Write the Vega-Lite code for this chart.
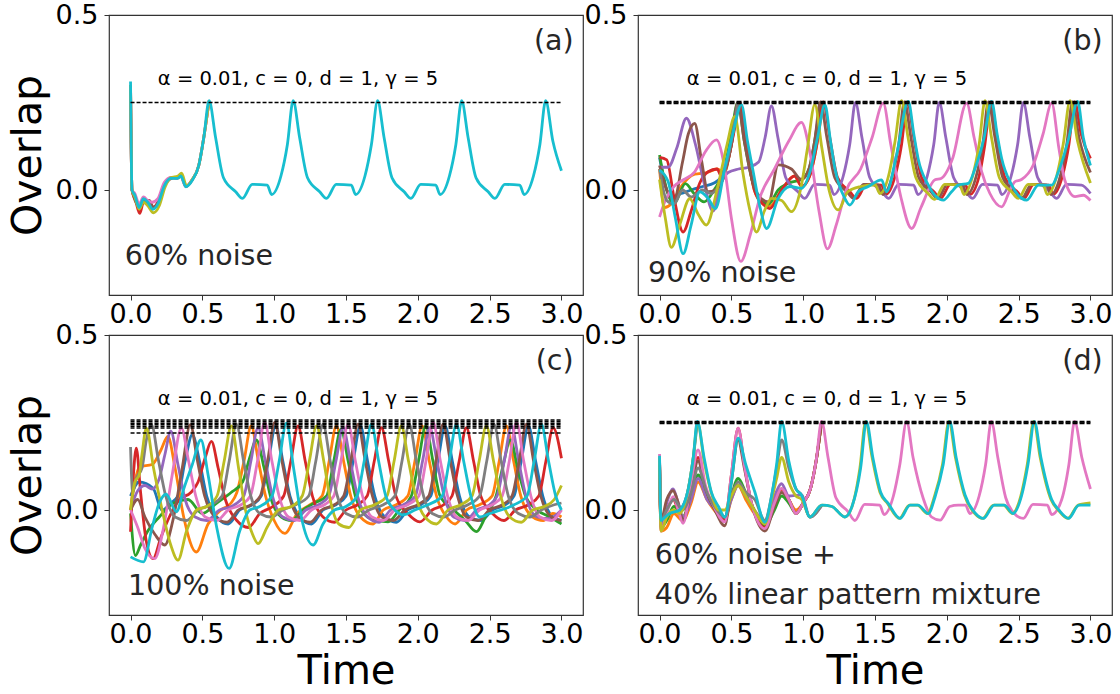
{
"$schema":"https://vega.github.io/schema/vega-lite/v6.json",
"background":"white",
"padding":{"left":6,"top":0,"right":0,"bottom":0},
"config":{
"view":{"stroke":"#333","strokeWidth":1.2},
"range":{"category":["#1f77b4","#ff7f0e","#2ca02c","#d62728","#9467bd","#8c564b","#e377c2","#7f7f7f","#bcbd22","#17becf"]},
"axis":{"labelFont":"DejaVu Sans","labelFontSize":27,"labelColor":"black","titleFont":"DejaVu Sans","titleFontSize":41,"titleFontWeight":"normal","titleColor":"black","domain":false,"grid":false,"tickSize":5,"tickColor":"#333","labelPadding":3,"titlePadding":6,"labelOverlap":false,"labelFlush":false},
"axisBottom":{"titlePadding":4,"labelPadding":1,"titleFontSize":40},
"axisLeft":{"labelPadding":6}
},
"datasets":{
"a":[
{"s":3,"t":0,"v":0.3},{"s":3,"t":0.01,"v":0.0},{"s":3,"t":0.035,"v":-0.03},{"s":3,"t":0.064,"v":-0.067},{"s":3,"t":0.09,"v":-0.035},{"s":3,"t":0.12,"v":-0.04},{"s":3,"t":0.155,"v":-0.05},{"s":3,"t":0.19,"v":-0.035},{"s":3,"t":0.235,"v":0.015},{"s":3,"t":0.28,"v":0.035},{"s":3,"t":0.33,"v":0.035},{"s":3,"t":0.35,"v":0.04},{"s":3,"t":0.385,"v":0.01},{"s":3,"t":0.43,"v":0.03},{"s":3,"t":0.475,"v":0.07},{"s":3,"t":0.51,"v":0.15},{"s":3,"t":0.547,"v":0.255},
{"s":5,"t":0,"v":0.3},{"s":5,"t":0.01,"v":0.0},{"s":5,"t":0.06,"v":-0.045},{"s":5,"t":0.09,"v":-0.03},{"s":5,"t":0.13,"v":-0.03},{"s":5,"t":0.16,"v":-0.05},{"s":5,"t":0.2,"v":-0.03},{"s":5,"t":0.24,"v":0.015},{"s":5,"t":0.3,"v":0.035},{"s":5,"t":0.33,"v":0.033},
{"s":6,"t":0,"v":0.3},{"s":6,"t":0.01,"v":0.0},{"s":6,"t":0.03,"v":-0.01},{"s":6,"t":0.06,"v":-0.04},{"s":6,"t":0.09,"v":-0.02},{"s":6,"t":0.12,"v":-0.03},{"s":6,"t":0.15,"v":-0.035},{"s":6,"t":0.19,"v":-0.025},{"s":6,"t":0.235,"v":0.022},{"s":6,"t":0.28,"v":0.035},{"s":6,"t":0.33,"v":0.035},{"s":6,"t":0.35,"v":0.04},{"s":6,"t":0.385,"v":0.01},{"s":6,"t":0.43,"v":0.03},{"s":6,"t":0.475,"v":0.07},{"s":6,"t":0.51,"v":0.15},{"s":6,"t":0.547,"v":0.255},
{"s":8,"t":0,"v":0.3},{"s":8,"t":0.01,"v":0.0},{"s":8,"t":0.03,"v":-0.02},{"s":8,"t":0.06,"v":-0.055},{"s":8,"t":0.09,"v":-0.035},{"s":8,"t":0.12,"v":-0.045},{"s":8,"t":0.16,"v":-0.065},{"s":8,"t":0.2,"v":-0.045},{"s":8,"t":0.24,"v":0.008},{"s":8,"t":0.28,"v":0.035},{"s":8,"t":0.33,"v":0.04},{"s":8,"t":0.355,"v":0.048},{"s":8,"t":0.39,"v":0.012},{"s":8,"t":0.43,"v":0.03},{"s":8,"t":0.475,"v":0.07},{"s":8,"t":0.51,"v":0.15},{"s":8,"t":0.547,"v":0.255},
{"s":9,"t":0,"v":0.31},{"s":9,"t":0.01,"v":0.0},{"s":9,"t":0.03,"v":-0.015},{"s":9,"t":0.06,"v":-0.05},{"s":9,"t":0.09,"v":-0.025},{"s":9,"t":0.12,"v":-0.035},{"s":9,"t":0.155,"v":-0.055},{"s":9,"t":0.19,"v":-0.04},{"s":9,"t":0.235,"v":0.012},{"s":9,"t":0.28,"v":0.033},{"s":9,"t":0.33,"v":0.033},{"s":9,"t":0.35,"v":0.04},{"s":9,"t":0.385,"v":0.009},{"s":9,"t":0.43,"v":0.028},{"s":9,"t":0.475,"v":0.07},{"s":9,"t":0.51,"v":0.15},
{"s":9,"t":0.547,"v":0.255},{"s":9,"t":0.592,"v":0.15},{"s":9,"t":0.647,"v":0.035},{"s":9,"t":0.732,"v":-0.005},{"s":9,"t":0.779,"v":-0.024},{"s":9,"t":0.847,"v":0.016},{"s":9,"t":0.952,"v":0.014},{"s":9,"t":0.982,"v":-0.013},{"s":9,"t":1.047,"v":0.04},{"s":9,"t":1.092,"v":0.13},
{"s":9,"t":1.132,"v":0.255},{"s":9,"t":1.177,"v":0.15},{"s":9,"t":1.232,"v":0.035},{"s":9,"t":1.317,"v":-0.005},{"s":9,"t":1.364,"v":-0.024},{"s":9,"t":1.432,"v":0.016},{"s":9,"t":1.537,"v":0.014},{"s":9,"t":1.567,"v":-0.013},{"s":9,"t":1.632,"v":0.04},{"s":9,"t":1.677,"v":0.13},
{"s":9,"t":1.72,"v":0.255},{"s":9,"t":1.765,"v":0.15},{"s":9,"t":1.82,"v":0.035},{"s":9,"t":1.905,"v":-0.005},{"s":9,"t":1.952,"v":-0.024},{"s":9,"t":2.02,"v":0.016},{"s":9,"t":2.125,"v":0.014},{"s":9,"t":2.155,"v":-0.013},{"s":9,"t":2.22,"v":0.04},{"s":9,"t":2.265,"v":0.13},
{"s":9,"t":2.305,"v":0.255},{"s":9,"t":2.35,"v":0.15},{"s":9,"t":2.405,"v":0.035},{"s":9,"t":2.49,"v":-0.005},{"s":9,"t":2.537,"v":-0.024},{"s":9,"t":2.605,"v":0.016},{"s":9,"t":2.71,"v":0.014},{"s":9,"t":2.74,"v":-0.013},{"s":9,"t":2.805,"v":0.04},{"s":9,"t":2.85,"v":0.13},
{"s":9,"t":2.89,"v":0.255},{"s":9,"t":2.94,"v":0.14},{"s":9,"t":3.0,"v":0.055}
],
"b":[
{"s":0,"t":0,"v":0.093},{"s":0,"t":0.03,"v":0.03},{"s":0,"t":0.08,"v":-0.02},{"s":0,"t":0.15,"v":-0.01},{"s":0,"t":0.22,"v":0.0},{"s":0,"t":0.3,"v":0.01},{"s":0,"t":0.38,"v":0.02},{"s":0,"t":0.45,"v":0.05},{"s":0,"t":0.5,"v":0.13},{"s":0,"t":0.545,"v":0.25},
{"s":1,"t":0,"v":0.06},{"s":1,"t":0.035,"v":-0.05},{"s":1,"t":0.08,"v":-0.04},{"s":1,"t":0.15,"v":0.01},{"s":1,"t":0.245,"v":0.045},{"s":1,"t":0.33,"v":0.05},{"s":1,"t":0.4,"v":0.06},{"s":1,"t":0.45,"v":0.05},{"s":1,"t":0.5,"v":0.13},{"s":1,"t":0.55,"v":0.25},{"s":1,"t":0.6,"v":0.13},{"s":1,"t":0.66,"v":0.0},{"s":1,"t":0.72,"v":-0.04},{"s":1,"t":0.77,"v":-0.045},{"s":1,"t":0.85,"v":0.0},{"s":1,"t":0.94,"v":0.04},{"s":1,"t":0.99,"v":0.01},{"s":1,"t":1.045,"v":0.04},{"s":1,"t":1.095,"v":0.13},{"s":1,"t":1.14,"v":0.252},
{"s":2,"t":0,"v":0.1},{"s":2,"t":0.05,"v":0.0},{"s":2,"t":0.1,"v":-0.04},{"s":2,"t":0.18,"v":0.018},{"s":2,"t":0.24,"v":-0.01},{"s":2,"t":0.31,"v":-0.034},{"s":2,"t":0.38,"v":0.0},{"s":2,"t":0.45,"v":0.06},{"s":2,"t":0.5,"v":0.16},{"s":2,"t":0.545,"v":0.25},{"s":2,"t":0.59,"v":0.14},{"s":2,"t":0.65,"v":0.02},{"s":2,"t":0.71,"v":-0.03},{"s":2,"t":0.76,"v":-0.04},{"s":2,"t":0.826,"v":0.0},{"s":2,"t":0.9,"v":0.02},{"s":2,"t":0.988,"v":0.03},{"s":2,"t":1.04,"v":0.06},{"s":2,"t":1.08,"v":0.14},{"s":2,"t":1.12,"v":0.252},
{"s":3,"t":0,"v":0.093},{"s":3,"t":0.05,"v":0.086},{"s":3,"t":0.1,"v":-0.02},{"s":3,"t":0.164,"v":-0.12},{"s":3,"t":0.22,"v":-0.06},{"s":3,"t":0.28,"v":0.02},{"s":3,"t":0.338,"v":0.052},{"s":3,"t":0.4,"v":0.06},{"s":3,"t":0.43,"v":0.04},{"s":3,"t":0.48,"v":0.09},{"s":3,"t":0.52,"v":0.17},{"s":3,"t":0.56,"v":0.25},{"s":3,"t":0.605,"v":0.13},{"s":3,"t":0.66,"v":0.0},{"s":3,"t":0.72,"v":-0.04},{"s":3,"t":0.768,"v":-0.053},{"s":3,"t":0.85,"v":0.0},{"s":3,"t":0.94,"v":0.04},{"s":3,"t":0.99,"v":0.01},{"s":3,"t":1.045,"v":0.04},{"s":3,"t":1.095,"v":0.13},{"s":3,"t":1.14,"v":0.252},{"s":3,"t":1.185,"v":0.15},{"s":3,"t":1.24,"v":0.035},{"s":3,"t":1.325,"v":-0.005},{"s":3,"t":1.372,"v":-0.024},{"s":3,"t":1.44,"v":0.016},{"s":3,"t":1.545,"v":0.014},{"s":3,"t":1.575,"v":-0.013},{"s":3,"t":1.64,"v":0.04},{"s":3,"t":1.685,"v":0.13},{"s":3,"t":1.725,"v":0.252},{"s":3,"t":1.77,"v":0.15},{"s":3,"t":1.825,"v":0.035},{"s":3,"t":1.91,"v":-0.005},{"s":3,"t":1.957,"v":-0.024},{"s":3,"t":2.025,"v":0.016},{"s":3,"t":2.13,"v":0.014},{"s":3,"t":2.16,"v":-0.013},{"s":3,"t":2.225,"v":0.04},{"s":3,"t":2.265,"v":0.13},{"s":3,"t":2.305,"v":0.252},{"s":3,"t":2.35,"v":0.15},{"s":3,"t":2.405,"v":0.035},{"s":3,"t":2.49,"v":-0.005},{"s":3,"t":2.537,"v":-0.024},{"s":3,"t":2.605,"v":0.016},{"s":3,"t":2.71,"v":0.014},{"s":3,"t":2.74,"v":-0.013},{"s":3,"t":2.805,"v":0.04},{"s":3,"t":2.85,"v":0.13},{"s":3,"t":2.89,"v":0.252},{"s":3,"t":2.935,"v":0.16},{"s":3,"t":3.0,"v":0.09},
{"s":4,"t":0,"v":0.065},{"s":4,"t":0.06,"v":0.065},{"s":4,"t":0.12,"v":0.12},{"s":4,"t":0.187,"v":0.205},{"s":4,"t":0.25,"v":0.13},{"s":4,"t":0.31,"v":0.02},{"s":4,"t":0.373,"v":-0.06},{"s":4,"t":0.42,"v":0.01},{"s":4,"t":0.477,"v":0.05},{"s":4,"t":0.55,"v":0.06},{"s":4,"t":0.62,"v":0.065},{"s":4,"t":0.69,"v":0.08},{"s":4,"t":0.735,"v":0.15},{"s":4,"t":0.779,"v":0.24},{"s":4,"t":0.824,"v":0.15},{"s":4,"t":0.879,"v":0.035},{"s":4,"t":0.964,"v":-0.005},{"s":4,"t":1.011,"v":-0.024},{"s":4,"t":1.079,"v":0.016},{"s":4,"t":1.184,"v":0.014},{"s":4,"t":1.214,"v":-0.013},{"s":4,"t":1.279,"v":0.04},{"s":4,"t":1.324,"v":0.13},{"s":4,"t":1.364,"v":0.25},{"s":4,"t":1.409,"v":0.15},{"s":4,"t":1.464,"v":0.035},{"s":4,"t":1.549,"v":-0.005},{"s":4,"t":1.596,"v":-0.024},{"s":4,"t":1.664,"v":0.016},{"s":4,"t":1.769,"v":0.014},{"s":4,"t":1.799,"v":-0.013},{"s":4,"t":1.864,"v":0.04},{"s":4,"t":1.909,"v":0.13},{"s":4,"t":1.948,"v":0.25},{"s":4,"t":1.993,"v":0.15},{"s":4,"t":2.048,"v":0.035},{"s":4,"t":2.133,"v":-0.005},{"s":4,"t":2.18,"v":-0.024},{"s":4,"t":2.248,"v":0.016},{"s":4,"t":2.353,"v":0.014},{"s":4,"t":2.383,"v":-0.013},{"s":4,"t":2.448,"v":0.04},{"s":4,"t":2.493,"v":0.13},{"s":4,"t":2.533,"v":0.25},{"s":4,"t":2.578,"v":0.15},{"s":4,"t":2.633,"v":0.035},{"s":4,"t":2.718,"v":-0.005},{"s":4,"t":2.765,"v":-0.024},{"s":4,"t":2.833,"v":0.016},{"s":4,"t":2.938,"v":0.014},{"s":4,"t":3.0,"v":-0.01},
{"s":5,"t":0,"v":0.07},{"s":5,"t":0.05,"v":0.0},{"s":5,"t":0.1,"v":-0.03},{"s":5,"t":0.16,"v":0.08},{"s":5,"t":0.2,"v":0.16},{"s":5,"t":0.245,"v":0.19},{"s":5,"t":0.29,"v":0.09},{"s":5,"t":0.338,"v":-0.005},{"s":5,"t":0.39,"v":0.0},{"s":5,"t":0.44,"v":0.03},{"s":5,"t":0.5,"v":0.13},{"s":5,"t":0.545,"v":0.25},{"s":5,"t":0.59,"v":0.14},{"s":5,"t":0.65,"v":0.02},{"s":5,"t":0.71,"v":-0.025},{"s":5,"t":0.76,"v":-0.034},{"s":5,"t":0.826,"v":0.072},{"s":5,"t":0.918,"v":0.06},{"s":5,"t":0.988,"v":0.03},{"s":5,"t":1.04,"v":0.06},{"s":5,"t":1.08,"v":0.14},{"s":5,"t":1.12,"v":0.252},{"s":5,"t":1.165,"v":0.15},{"s":5,"t":1.22,"v":0.035},{"s":5,"t":1.305,"v":-0.005},{"s":5,"t":1.352,"v":-0.024},{"s":5,"t":1.42,"v":0.016},{"s":5,"t":1.525,"v":0.014},{"s":5,"t":1.555,"v":-0.013},{"s":5,"t":1.62,"v":0.04},{"s":5,"t":1.665,"v":0.13},{"s":5,"t":1.705,"v":0.252},{"s":5,"t":1.75,"v":0.15},{"s":5,"t":1.805,"v":0.035},{"s":5,"t":1.89,"v":-0.005},{"s":5,"t":1.937,"v":-0.024},{"s":5,"t":2.005,"v":0.016},{"s":5,"t":2.11,"v":0.014},{"s":5,"t":2.14,"v":-0.013},{"s":5,"t":2.205,"v":0.04},{"s":5,"t":2.25,"v":0.13},{"s":5,"t":2.29,"v":0.252},{"s":5,"t":2.335,"v":0.15},{"s":5,"t":2.39,"v":0.035},{"s":5,"t":2.475,"v":-0.005},{"s":5,"t":2.522,"v":-0.024},{"s":5,"t":2.59,"v":0.016},{"s":5,"t":2.695,"v":0.014},{"s":5,"t":2.725,"v":-0.013},{"s":5,"t":2.79,"v":0.04},{"s":5,"t":2.835,"v":0.13},{"s":5,"t":2.875,"v":0.252},{"s":5,"t":2.92,"v":0.15},{"s":5,"t":3.0,"v":0.05},
{"s":6,"t":0,"v":-0.077},{"s":6,"t":0.04,"v":-0.03},{"s":6,"t":0.1,"v":0.01},{"s":6,"t":0.17,"v":0.03},{"s":6,"t":0.245,"v":0.052},{"s":6,"t":0.32,"v":0.11},{"s":6,"t":0.396,"v":0.143},{"s":6,"t":0.45,"v":0.07},{"s":6,"t":0.5,"v":-0.08},{"s":6,"t":0.566,"v":-0.204},{"s":6,"t":0.63,"v":-0.13},{"s":6,"t":0.7,"v":-0.02},{"s":6,"t":0.8,"v":0.06},{"s":6,"t":0.9,"v":0.14},{"s":6,"t":0.988,"v":0.193},{"s":6,"t":1.05,"v":0.1},{"s":6,"t":1.11,"v":-0.06},{"s":6,"t":1.169,"v":-0.168},{"s":6,"t":1.23,"v":-0.1},{"s":6,"t":1.3,"v":0.0},{"s":6,"t":1.4,"v":0.06},{"s":6,"t":1.48,"v":0.15},{"s":6,"t":1.557,"v":0.248},{"s":6,"t":1.61,"v":0.13},{"s":6,"t":1.68,"v":-0.02},{"s":6,"t":1.755,"v":-0.11},{"s":6,"t":1.82,"v":-0.05},{"s":6,"t":1.918,"v":0.029},{"s":6,"t":1.96,"v":0.033},{"s":6,"t":2.04,"v":0.09},{"s":6,"t":2.138,"v":0.248},{"s":6,"t":2.19,"v":0.15},{"s":6,"t":2.243,"v":0.052},{"s":6,"t":2.3,"v":-0.01},{"s":6,"t":2.382,"v":-0.048},{"s":6,"t":2.44,"v":0.0},{"s":6,"t":2.475,"v":0.024},{"s":6,"t":2.52,"v":0.03},{"s":6,"t":2.6,"v":0.07},{"s":6,"t":2.67,"v":0.16},{"s":6,"t":2.73,"v":0.248},{"s":6,"t":2.78,"v":0.12},{"s":6,"t":2.82,"v":0.03},{"s":6,"t":2.893,"v":-0.019},{"s":6,"t":2.95,"v":-0.015},{"s":6,"t":3.0,"v":-0.03},
{"s":7,"t":0,"v":0.06},{"s":7,"t":0.05,"v":-0.03},{"s":7,"t":0.1,"v":-0.04},{"s":7,"t":0.16,"v":0.0},{"s":7,"t":0.22,"v":-0.02},{"s":7,"t":0.3,"v":0.0},{"s":7,"t":0.36,"v":-0.01},{"s":7,"t":0.42,"v":0.02},{"s":7,"t":0.48,"v":0.1},{"s":7,"t":0.545,"v":0.25},
{"s":8,"t":0,"v":0.03},{"s":8,"t":0.04,"v":-0.08},{"s":8,"t":0.082,"v":-0.164},{"s":8,"t":0.14,"v":-0.1},{"s":8,"t":0.21,"v":-0.025},{"s":8,"t":0.27,"v":-0.07},{"s":8,"t":0.326,"v":-0.1},{"s":8,"t":0.4,"v":0.0},{"s":8,"t":0.47,"v":0.13},{"s":8,"t":0.524,"v":0.21},{"s":8,"t":0.58,"v":0.05},{"s":8,"t":0.63,"v":-0.06},{"s":8,"t":0.675,"v":-0.12},{"s":8,"t":0.73,"v":-0.06},{"s":8,"t":0.78,"v":-0.024},{"s":8,"t":0.85,"v":-0.03},{"s":8,"t":0.918,"v":-0.062},{"s":8,"t":0.988,"v":0.014},{"s":8,"t":1.03,"v":0.12},{"s":8,"t":1.081,"v":0.244},{"s":8,"t":1.13,"v":0.12},{"s":8,"t":1.18,"v":0.0},{"s":8,"t":1.244,"v":-0.057},{"s":8,"t":1.31,"v":-0.005},{"s":8,"t":1.4,"v":0.01},{"s":8,"t":1.5,"v":0.015},{"s":8,"t":1.535,"v":-0.01},{"s":8,"t":1.6,"v":0.05},{"s":8,"t":1.64,"v":0.14},{"s":8,"t":1.685,"v":0.255},{"s":8,"t":1.73,"v":0.15},{"s":8,"t":1.785,"v":0.035},{"s":8,"t":1.87,"v":-0.01},{"s":8,"t":1.915,"v":-0.027},{"s":8,"t":1.985,"v":0.016},{"s":8,"t":2.09,"v":0.014},{"s":8,"t":2.12,"v":-0.013},{"s":8,"t":2.18,"v":0.04},{"s":8,"t":2.225,"v":0.13},{"s":8,"t":2.266,"v":0.255},{"s":8,"t":2.311,"v":0.15},{"s":8,"t":2.366,"v":0.035},{"s":8,"t":2.451,"v":-0.005},{"s":8,"t":2.498,"v":-0.024},{"s":8,"t":2.566,"v":0.016},{"s":8,"t":2.671,"v":0.014},{"s":8,"t":2.7,"v":-0.013},{"s":8,"t":2.765,"v":0.04},{"s":8,"t":2.81,"v":0.13},{"s":8,"t":2.858,"v":0.255},{"s":8,"t":2.91,"v":0.14},{"s":8,"t":3.0,"v":0.02},
{"s":9,"t":0,"v":0.057},{"s":9,"t":0.06,"v":0.024},{"s":9,"t":0.11,"v":-0.08},{"s":9,"t":0.164,"v":-0.182},{"s":9,"t":0.22,"v":-0.1},{"s":9,"t":0.28,"v":-0.005},{"s":9,"t":0.338,"v":-0.024},{"s":9,"t":0.389,"v":-0.053},{"s":9,"t":0.454,"v":0.062},{"s":9,"t":0.51,"v":0.16},{"s":9,"t":0.57,"v":0.244},{"s":9,"t":0.612,"v":0.14},{"s":9,"t":0.652,"v":0.052},{"s":9,"t":0.7,"v":-0.05},{"s":9,"t":0.745,"v":-0.11},{"s":9,"t":0.826,"v":-0.024},{"s":9,"t":0.907,"v":0.01},{"s":9,"t":0.988,"v":0.005},{"s":9,"t":1.047,"v":0.052},{"s":9,"t":1.1,"v":0.15},{"s":9,"t":1.151,"v":0.244},{"s":9,"t":1.19,"v":0.14},{"s":9,"t":1.221,"v":0.062},{"s":9,"t":1.29,"v":-0.024},{"s":9,"t":1.325,"v":-0.043},{"s":9,"t":1.383,"v":-0.005},{"s":9,"t":1.453,"v":0.01},{"s":9,"t":1.546,"v":0.029},{"s":9,"t":1.58,"v":-0.005},{"s":9,"t":1.65,"v":0.1},{"s":9,"t":1.732,"v":0.253},{"s":9,"t":1.77,"v":0.16},{"s":9,"t":1.8,"v":0.09},{"s":9,"t":1.871,"v":0.014},{"s":9,"t":1.976,"v":-0.029},{"s":9,"t":2.033,"v":-0.005},{"s":9,"t":2.08,"v":0.014},{"s":9,"t":2.15,"v":0.019},{"s":9,"t":2.197,"v":0.062},{"s":9,"t":2.26,"v":0.15},{"s":9,"t":2.312,"v":0.253},{"s":9,"t":2.35,"v":0.16},{"s":9,"t":2.382,"v":0.09},{"s":9,"t":2.452,"v":0.014},{"s":9,"t":2.556,"v":-0.029},{"s":9,"t":2.638,"v":0.014},{"s":9,"t":2.73,"v":0.014},{"s":9,"t":2.777,"v":0.052},{"s":9,"t":2.85,"v":0.15},{"s":9,"t":2.911,"v":0.253},{"s":9,"t":2.95,"v":0.15},{"s":9,"t":3.0,"v":0.07}
],
"c":[
{"s":0,"t":0,"v":0.04},{"s":0,"t":0.06,"v":0.08},{"s":0,"t":0.157,"v":0.062},{"s":0,"t":0.22,"v":0.0},{"s":0,"t":0.28,"v":0.02},{"s":0,"t":0.33,"v":0.04},{"s":0,"t":0.38,"v":0.14},{"s":0,"t":0.43,"v":0.215},{"s":0,"t":0.48,"v":0.14},{"s":0,"t":0.53,"v":0.04},{"s":0,"t":0.6,"v":-0.02},{"s":0,"t":0.68,"v":-0.04},{"s":0,"t":0.76,"v":0.0},{"s":0,"t":0.85,"v":0.015},{"s":0,"t":0.91,"v":0.04},{"s":0,"t":0.96,"v":0.14},{"s":0,"t":1.01,"v":0.24},{"s":0,"t":1.06,"v":0.14},{"s":0,"t":1.11,"v":0.04},{"s":0,"t":1.18,"v":-0.02},{"s":0,"t":1.26,"v":-0.04},{"s":0,"t":1.34,"v":0.0},{"s":0,"t":1.43,"v":0.015},{"s":0,"t":1.5,"v":0.04},{"s":0,"t":1.55,"v":0.14},{"s":0,"t":1.6,"v":0.24},{"s":0,"t":1.65,"v":0.14},{"s":0,"t":1.7,"v":0.04},{"s":0,"t":1.77,"v":-0.02},{"s":0,"t":1.85,"v":-0.035},{"s":0,"t":1.93,"v":0.0},{"s":0,"t":2.02,"v":0.015},{"s":0,"t":2.09,"v":0.04},{"s":0,"t":2.14,"v":0.14},{"s":0,"t":2.19,"v":0.24},{"s":0,"t":2.24,"v":0.14},{"s":0,"t":2.29,"v":0.04},{"s":0,"t":2.36,"v":-0.02},{"s":0,"t":2.44,"v":-0.03},{"s":0,"t":2.52,"v":0.0},{"s":0,"t":2.61,"v":0.015},{"s":0,"t":2.67,"v":0.04},{"s":0,"t":2.72,"v":0.14},{"s":0,"t":2.77,"v":0.24},{"s":0,"t":2.82,"v":0.14},{"s":0,"t":2.87,"v":0.04},{"s":0,"t":2.94,"v":-0.02},{"s":0,"t":3.0,"v":-0.03},
{"s":1,"t":0,"v":0.0},{"s":1,"t":0.03,"v":0.08},{"s":1,"t":0.064,"v":0.124},{"s":1,"t":0.15,"v":0.13},{"s":1,"t":0.21,"v":0.17},{"s":1,"t":0.26,"v":0.21},{"s":1,"t":0.31,"v":0.12},{"s":1,"t":0.37,"v":-0.02},{"s":1,"t":0.458,"v":-0.12},{"s":1,"t":0.54,"v":-0.04},{"s":1,"t":0.63,"v":0.0},{"s":1,"t":0.7,"v":0.02},{"s":1,"t":0.74,"v":0.05},{"s":1,"t":0.79,"v":0.14},{"s":1,"t":0.84,"v":0.24},{"s":1,"t":0.89,"v":0.14},{"s":1,"t":0.94,"v":0.04},{"s":1,"t":1.0,"v":-0.03},{"s":1,"t":1.074,"v":-0.067},{"s":1,"t":1.16,"v":-0.01},{"s":1,"t":1.25,"v":0.015},{"s":1,"t":1.333,"v":0.04},{"s":1,"t":1.383,"v":0.14},{"s":1,"t":1.433,"v":0.24},{"s":1,"t":1.483,"v":0.14},{"s":1,"t":1.533,"v":0.04},{"s":1,"t":1.6,"v":-0.02},{"s":1,"t":1.689,"v":-0.04},{"s":1,"t":1.76,"v":0.0},{"s":1,"t":1.85,"v":0.015},{"s":1,"t":1.93,"v":0.04},{"s":1,"t":1.98,"v":0.14},{"s":1,"t":2.03,"v":0.24},{"s":1,"t":2.08,"v":0.14},{"s":1,"t":2.13,"v":0.04},{"s":1,"t":2.2,"v":-0.02},{"s":1,"t":2.26,"v":-0.04},{"s":1,"t":2.34,"v":0.0},{"s":1,"t":2.43,"v":0.015},{"s":1,"t":2.517,"v":0.04},{"s":1,"t":2.567,"v":0.14},{"s":1,"t":2.617,"v":0.24},{"s":1,"t":2.667,"v":0.14},{"s":1,"t":2.717,"v":0.04},{"s":1,"t":2.8,"v":-0.02},{"s":1,"t":2.873,"v":-0.03},{"s":1,"t":2.94,"v":-0.01},{"s":1,"t":3.0,"v":-0.02},
{"s":2,"t":0,"v":-0.01},{"s":2,"t":0.034,"v":-0.13},{"s":2,"t":0.07,"v":-0.1},{"s":2,"t":0.12,"v":-0.06},{"s":2,"t":0.2,"v":-0.02},{"s":2,"t":0.3,"v":0.02},{"s":2,"t":0.4,"v":0.03},{"s":2,"t":0.5,"v":-0.01},{"s":2,"t":0.6,"v":0.02},{"s":2,"t":0.7,"v":0.05},{"s":2,"t":0.78,"v":0.08},{"s":2,"t":0.83,"v":0.15},{"s":2,"t":0.876,"v":0.2},{"s":2,"t":0.93,"v":0.12},{"s":2,"t":0.98,"v":0.03},{"s":2,"t":1.05,"v":-0.02},{"s":2,"t":1.12,"v":-0.03},{"s":2,"t":1.2,"v":0.0},{"s":2,"t":1.28,"v":0.02},{"s":2,"t":1.365,"v":0.04},{"s":2,"t":1.415,"v":0.14},{"s":2,"t":1.465,"v":0.23},{"s":2,"t":1.515,"v":0.14},{"s":2,"t":1.565,"v":0.04},{"s":2,"t":1.65,"v":-0.02},{"s":2,"t":1.72,"v":-0.03},{"s":2,"t":1.793,"v":-0.034},{"s":2,"t":1.87,"v":0.0},{"s":2,"t":1.955,"v":0.04},{"s":2,"t":2.005,"v":0.14},{"s":2,"t":2.055,"v":0.24},{"s":2,"t":2.105,"v":0.14},{"s":2,"t":2.155,"v":0.04},{"s":2,"t":2.25,"v":0.0},{"s":2,"t":2.33,"v":-0.03},{"s":2,"t":2.408,"v":-0.062},{"s":2,"t":2.47,"v":-0.02},{"s":2,"t":2.545,"v":0.04},{"s":2,"t":2.595,"v":0.13},{"s":2,"t":2.645,"v":0.2},{"s":2,"t":2.695,"v":0.12},{"s":2,"t":2.75,"v":0.04},{"s":2,"t":2.83,"v":0.0},{"s":2,"t":2.92,"v":-0.02},{"s":2,"t":3.0,"v":-0.04},
{"s":3,"t":0,"v":-0.062},{"s":3,"t":0.02,"v":0.1},{"s":3,"t":0.04,"v":0.177},{"s":3,"t":0.07,"v":0.05},{"s":3,"t":0.11,"v":-0.09},{"s":3,"t":0.157,"v":-0.139},{"s":3,"t":0.21,"v":-0.08},{"s":3,"t":0.27,"v":-0.02},{"s":3,"t":0.34,"v":0.03},{"s":3,"t":0.42,"v":0.05},{"s":3,"t":0.47,"v":0.08},{"s":3,"t":0.52,"v":0.15},{"s":3,"t":0.563,"v":0.196},{"s":3,"t":0.61,"v":0.12},{"s":3,"t":0.66,"v":0.03},{"s":3,"t":0.74,"v":-0.03},{"s":3,"t":0.82,"v":-0.05},{"s":3,"t":0.9,"v":-0.01},{"s":3,"t":0.99,"v":0.01},{"s":3,"t":1.066,"v":0.04},{"s":3,"t":1.116,"v":0.14},{"s":3,"t":1.166,"v":0.24},{"s":3,"t":1.216,"v":0.14},{"s":3,"t":1.266,"v":0.04},{"s":3,"t":1.34,"v":-0.02},{"s":3,"t":1.42,"v":-0.035},{"s":3,"t":1.5,"v":0.0},{"s":3,"t":1.58,"v":0.015},{"s":3,"t":1.647,"v":0.04},{"s":3,"t":1.697,"v":0.14},{"s":3,"t":1.747,"v":0.235},{"s":3,"t":1.797,"v":0.14},{"s":3,"t":1.847,"v":0.04},{"s":3,"t":1.93,"v":-0.01},{"s":3,"t":2.014,"v":-0.034},{"s":3,"t":2.1,"v":0.0},{"s":3,"t":2.18,"v":0.015},{"s":3,"t":2.238,"v":0.04},{"s":3,"t":2.288,"v":0.14},{"s":3,"t":2.338,"v":0.235},{"s":3,"t":2.388,"v":0.14},{"s":3,"t":2.438,"v":0.04},{"s":3,"t":2.52,"v":-0.01},{"s":3,"t":2.6,"v":-0.03},{"s":3,"t":2.68,"v":0.0},{"s":3,"t":2.77,"v":0.015},{"s":3,"t":2.842,"v":0.04},{"s":3,"t":2.892,"v":0.14},{"s":3,"t":2.942,"v":0.235},{"s":3,"t":3.0,"v":0.148},
{"s":4,"t":0,"v":0.0},{"s":4,"t":0.05,"v":0.055},{"s":4,"t":0.1,"v":0.07},{"s":4,"t":0.15,"v":0.06},{"s":4,"t":0.2,"v":0.09},{"s":4,"t":0.24,"v":0.16},{"s":4,"t":0.28,"v":0.225},{"s":4,"t":0.33,"v":0.13},{"s":4,"t":0.38,"v":0.03},{"s":4,"t":0.45,"v":-0.02},{"s":4,"t":0.53,"v":-0.03},{"s":4,"t":0.62,"v":0.0},{"s":4,"t":0.7,"v":0.01},{"s":4,"t":0.788,"v":0.04},{"s":4,"t":0.838,"v":0.14},{"s":4,"t":0.888,"v":0.235},{"s":4,"t":0.938,"v":0.14},{"s":4,"t":0.988,"v":0.04},{"s":4,"t":1.06,"v":-0.02},{"s":4,"t":1.14,"v":-0.03},{"s":4,"t":1.22,"v":0.0},{"s":4,"t":1.31,"v":0.015},{"s":4,"t":1.38,"v":0.04},{"s":4,"t":1.43,"v":0.14},{"s":4,"t":1.48,"v":0.235},{"s":4,"t":1.53,"v":0.14},{"s":4,"t":1.58,"v":0.04},{"s":4,"t":1.65,"v":-0.02},{"s":4,"t":1.73,"v":-0.035},{"s":4,"t":1.81,"v":0.0},{"s":4,"t":1.9,"v":0.015},{"s":4,"t":1.983,"v":0.04},{"s":4,"t":2.033,"v":0.14},{"s":4,"t":2.083,"v":0.235},{"s":4,"t":2.133,"v":0.14},{"s":4,"t":2.183,"v":0.04},{"s":4,"t":2.25,"v":-0.02},{"s":4,"t":2.33,"v":-0.03},{"s":4,"t":2.41,"v":0.0},{"s":4,"t":2.5,"v":0.015},{"s":4,"t":2.552,"v":0.04},{"s":4,"t":2.602,"v":0.14},{"s":4,"t":2.652,"v":0.24},{"s":4,"t":2.702,"v":0.14},{"s":4,"t":2.752,"v":0.04},{"s":4,"t":2.83,"v":-0.02},{"s":4,"t":2.91,"v":-0.025},{"s":4,"t":3.0,"v":0.0},
{"s":5,"t":0,"v":0.0},{"s":5,"t":0.05,"v":0.03},{"s":5,"t":0.1,"v":-0.02},{"s":5,"t":0.17,"v":-0.07},{"s":5,"t":0.238,"v":-0.1},{"s":5,"t":0.3,"v":-0.02},{"s":5,"t":0.36,"v":0.12},{"s":5,"t":0.416,"v":0.244},{"s":5,"t":0.466,"v":0.14},{"s":5,"t":0.516,"v":0.04},{"s":5,"t":0.59,"v":-0.02},{"s":5,"t":0.67,"v":-0.035},{"s":5,"t":0.75,"v":0.0},{"s":5,"t":0.84,"v":0.015},{"s":5,"t":0.904,"v":0.04},{"s":5,"t":0.954,"v":0.14},{"s":5,"t":1.004,"v":0.25},{"s":5,"t":1.054,"v":0.14},{"s":5,"t":1.104,"v":0.04},{"s":5,"t":1.17,"v":-0.02},{"s":5,"t":1.25,"v":-0.035},{"s":5,"t":1.33,"v":0.0},{"s":5,"t":1.42,"v":0.015},{"s":5,"t":1.484,"v":0.04},{"s":5,"t":1.534,"v":0.14},{"s":5,"t":1.584,"v":0.245},{"s":5,"t":1.634,"v":0.14},{"s":5,"t":1.684,"v":0.04},{"s":5,"t":1.75,"v":-0.02},{"s":5,"t":1.83,"v":-0.03},{"s":5,"t":1.91,"v":0.0},{"s":5,"t":2.0,"v":0.015},{"s":5,"t":2.076,"v":0.04},{"s":5,"t":2.126,"v":0.14},{"s":5,"t":2.176,"v":0.245},{"s":5,"t":2.226,"v":0.14},{"s":5,"t":2.276,"v":0.04},{"s":5,"t":2.34,"v":-0.02},{"s":5,"t":2.42,"v":-0.03},{"s":5,"t":2.5,"v":0.0},{"s":5,"t":2.59,"v":0.015},{"s":5,"t":2.656,"v":0.04},{"s":5,"t":2.706,"v":0.14},{"s":5,"t":2.756,"v":0.245},{"s":5,"t":2.806,"v":0.14},{"s":5,"t":2.856,"v":0.04},{"s":5,"t":2.93,"v":-0.02},{"s":5,"t":3.0,"v":-0.03},
{"s":6,"t":0,"v":0.0},{"s":6,"t":0.05,"v":-0.05},{"s":6,"t":0.1,"v":-0.11},{"s":6,"t":0.168,"v":-0.139},{"s":6,"t":0.23,"v":-0.05},{"s":6,"t":0.29,"v":0.1},{"s":6,"t":0.354,"v":0.234},{"s":6,"t":0.404,"v":0.14},{"s":6,"t":0.454,"v":0.04},{"s":6,"t":0.52,"v":-0.02},{"s":6,"t":0.6,"v":-0.03},{"s":6,"t":0.68,"v":0.0},{"s":6,"t":0.77,"v":0.015},{"s":6,"t":0.834,"v":0.04},{"s":6,"t":0.884,"v":0.14},{"s":6,"t":0.934,"v":0.25},{"s":6,"t":0.984,"v":0.14},{"s":6,"t":1.034,"v":0.04},{"s":6,"t":1.1,"v":-0.02},{"s":6,"t":1.18,"v":-0.03},{"s":6,"t":1.26,"v":0.0},{"s":6,"t":1.35,"v":0.015},{"s":6,"t":1.415,"v":0.04},{"s":6,"t":1.465,"v":0.14},{"s":6,"t":1.515,"v":0.245},{"s":6,"t":1.565,"v":0.14},{"s":6,"t":1.615,"v":0.04},{"s":6,"t":1.68,"v":-0.02},{"s":6,"t":1.76,"v":-0.03},{"s":6,"t":1.84,"v":0.0},{"s":6,"t":1.93,"v":0.015},{"s":6,"t":2.007,"v":0.04},{"s":6,"t":2.057,"v":0.14},{"s":6,"t":2.107,"v":0.25},{"s":6,"t":2.157,"v":0.14},{"s":6,"t":2.207,"v":0.04},{"s":6,"t":2.27,"v":-0.02},{"s":6,"t":2.35,"v":-0.03},{"s":6,"t":2.43,"v":0.0},{"s":6,"t":2.52,"v":0.015},{"s":6,"t":2.587,"v":0.04},{"s":6,"t":2.637,"v":0.14},{"s":6,"t":2.687,"v":0.25},{"s":6,"t":2.737,"v":0.14},{"s":6,"t":2.787,"v":0.04},{"s":6,"t":2.85,"v":-0.02},{"s":6,"t":2.93,"v":-0.03},{"s":6,"t":3.0,"v":0.0},
{"s":7,"t":0,"v":0.18},{"s":7,"t":0.015,"v":0.05},{"s":7,"t":0.04,"v":0.09},{"s":7,"t":0.08,"v":0.12},{"s":7,"t":0.11,"v":0.2},{"s":7,"t":0.145,"v":0.244},{"s":7,"t":0.195,"v":0.14},{"s":7,"t":0.245,"v":0.04},{"s":7,"t":0.31,"v":-0.02},{"s":7,"t":0.39,"v":-0.03},{"s":7,"t":0.47,"v":0.0},{"s":7,"t":0.56,"v":0.015},{"s":7,"t":0.637,"v":0.04},{"s":7,"t":0.687,"v":0.14},{"s":7,"t":0.737,"v":0.245},{"s":7,"t":0.787,"v":0.14},{"s":7,"t":0.837,"v":0.04},{"s":7,"t":0.9,"v":-0.01},{"s":7,"t":0.98,"v":-0.02},{"s":7,"t":1.06,"v":0.0},{"s":7,"t":1.15,"v":0.015},{"s":7,"t":1.24,"v":0.04},{"s":7,"t":1.29,"v":0.14},{"s":7,"t":1.34,"v":0.245},{"s":7,"t":1.39,"v":0.14},{"s":7,"t":1.44,"v":0.04},{"s":7,"t":1.5,"v":-0.01},{"s":7,"t":1.58,"v":-0.02},{"s":7,"t":1.66,"v":0.0},{"s":7,"t":1.76,"v":0.015},{"s":7,"t":1.84,"v":0.04},{"s":7,"t":1.89,"v":0.14},{"s":7,"t":1.94,"v":0.245},{"s":7,"t":1.99,"v":0.14},{"s":7,"t":2.04,"v":0.04},{"s":7,"t":2.1,"v":-0.01},{"s":7,"t":2.18,"v":-0.02},{"s":7,"t":2.26,"v":0.0},{"s":7,"t":2.35,"v":0.015},{"s":7,"t":2.43,"v":0.04},{"s":7,"t":2.48,"v":0.14},{"s":7,"t":2.53,"v":0.245},{"s":7,"t":2.58,"v":0.14},{"s":7,"t":2.63,"v":0.04},{"s":7,"t":2.7,"v":-0.01},{"s":7,"t":2.78,"v":-0.02},{"s":7,"t":2.86,"v":0.0},{"s":7,"t":2.95,"v":0.015},{"s":7,"t":3.0,"v":0.02},
{"s":8,"t":0,"v":0.0},{"s":8,"t":0.03,"v":0.08},{"s":8,"t":0.06,"v":0.1},{"s":8,"t":0.08,"v":0.16},{"s":8,"t":0.11,"v":0.234},{"s":8,"t":0.16,"v":0.12},{"s":8,"t":0.22,"v":0.0},{"s":8,"t":0.28,"v":-0.1},{"s":8,"t":0.33,"v":-0.143},{"s":8,"t":0.39,"v":-0.06},{"s":8,"t":0.46,"v":0.0},{"s":8,"t":0.53,"v":0.01},{"s":8,"t":0.602,"v":0.04},{"s":8,"t":0.652,"v":0.14},{"s":8,"t":0.702,"v":0.24},{"s":8,"t":0.752,"v":0.12},{"s":8,"t":0.8,"v":0.0},{"s":8,"t":0.85,"v":-0.07},{"s":8,"t":0.888,"v":-0.096},{"s":8,"t":0.95,"v":-0.05},{"s":8,"t":1.03,"v":0.0},{"s":8,"t":1.12,"v":0.01},{"s":8,"t":1.195,"v":0.04},{"s":8,"t":1.245,"v":0.14},{"s":8,"t":1.295,"v":0.24},{"s":8,"t":1.345,"v":0.14},{"s":8,"t":1.395,"v":0.02},{"s":8,"t":1.45,"v":-0.04},{"s":8,"t":1.52,"v":-0.05},{"s":8,"t":1.6,"v":0.0},{"s":8,"t":1.7,"v":0.015},{"s":8,"t":1.785,"v":0.04},{"s":8,"t":1.835,"v":0.14},{"s":8,"t":1.885,"v":0.24},{"s":8,"t":1.935,"v":0.14},{"s":8,"t":1.985,"v":0.04},{"s":8,"t":2.05,"v":-0.02},{"s":8,"t":2.13,"v":-0.04},{"s":8,"t":2.21,"v":0.0},{"s":8,"t":2.3,"v":0.015},{"s":8,"t":2.377,"v":0.04},{"s":8,"t":2.427,"v":0.14},{"s":8,"t":2.477,"v":0.24},{"s":8,"t":2.527,"v":0.14},{"s":8,"t":2.577,"v":0.04},{"s":8,"t":2.64,"v":-0.02},{"s":8,"t":2.72,"v":-0.035},{"s":8,"t":2.8,"v":0.0},{"s":8,"t":2.88,"v":0.01},{"s":8,"t":2.95,"v":0.03},{"s":8,"t":3.0,"v":0.07},
{"s":9,"t":0,"v":-0.134},{"s":9,"t":0.09,"v":-0.148},{"s":9,"t":0.15,"v":-0.05},{"s":9,"t":0.2,"v":0.02},{"s":9,"t":0.247,"v":0.045},{"s":9,"t":0.32,"v":-0.005},{"s":9,"t":0.37,"v":0.06},{"s":9,"t":0.43,"v":0.13},{"s":9,"t":0.49,"v":0.2},{"s":9,"t":0.54,"v":0.1},{"s":9,"t":0.6,"v":-0.05},{"s":9,"t":0.686,"v":-0.167},{"s":9,"t":0.76,"v":-0.06},{"s":9,"t":0.83,"v":0.0},{"s":9,"t":0.9,"v":0.01},{"s":9,"t":0.985,"v":0.04},{"s":9,"t":1.035,"v":0.14},{"s":9,"t":1.085,"v":0.248},{"s":9,"t":1.135,"v":0.12},{"s":9,"t":1.2,"v":-0.04},{"s":9,"t":1.271,"v":-0.1},{"s":9,"t":1.34,"v":-0.04},{"s":9,"t":1.42,"v":0.0},{"s":9,"t":1.5,"v":0.01},{"s":9,"t":1.577,"v":0.04},{"s":9,"t":1.627,"v":0.14},{"s":9,"t":1.677,"v":0.245},{"s":9,"t":1.727,"v":0.14},{"s":9,"t":1.777,"v":0.04},{"s":9,"t":1.84,"v":0.0},{"s":9,"t":1.898,"v":-0.014},{"s":9,"t":1.98,"v":0.0},{"s":9,"t":2.07,"v":0.015},{"s":9,"t":2.169,"v":0.04},{"s":9,"t":2.219,"v":0.14},{"s":9,"t":2.269,"v":0.245},{"s":9,"t":2.319,"v":0.14},{"s":9,"t":2.369,"v":0.04},{"s":9,"t":2.432,"v":-0.02},{"s":9,"t":2.5,"v":-0.01},{"s":9,"t":2.58,"v":0.0},{"s":9,"t":2.67,"v":0.015},{"s":9,"t":2.76,"v":0.04},{"s":9,"t":2.81,"v":0.14},{"s":9,"t":2.86,"v":0.245},{"s":9,"t":2.91,"v":0.14},{"s":9,"t":2.96,"v":0.04},{"s":9,"t":3.0,"v":0.0}
],
"d":[
{"s":0,"t":0,"v":0.15},{"s":0,"t":0.01,"v":-0.04},{"s":0,"t":0.04,"v":-0.03},{"s":0,"t":0.07,"v":-0.01},{"s":0,"t":0.14,"v":0.0},{"s":0,"t":0.2,"v":0.06},{"s":0,"t":0.235,"v":0.15},{"s":0,"t":0.263,"v":0.253},
{"s":1,"t":0,"v":0.14},{"s":1,"t":0.01,"v":-0.06},{"s":1,"t":0.05,"v":-0.05},{"s":1,"t":0.1,"v":-0.01},{"s":1,"t":0.16,"v":-0.03},{"s":1,"t":0.22,"v":0.02},{"s":1,"t":0.268,"v":0.08},{"s":1,"t":0.33,"v":0.03},{"s":1,"t":0.4,"v":-0.01},{"s":1,"t":0.454,"v":-0.03},{"s":1,"t":0.5,"v":0.03},{"s":1,"t":0.547,"v":0.07},{"s":1,"t":0.6,"v":0.03},{"s":1,"t":0.66,"v":-0.01},{"s":1,"t":0.733,"v":-0.04},{"s":1,"t":0.8,"v":0.03},{"s":1,"t":0.85,"v":0.06},{"s":1,"t":0.9,"v":0.03},{"s":1,"t":0.95,"v":0.0},{"s":1,"t":1.0,"v":0.02},{"s":1,"t":1.05,"v":0.06},{"s":1,"t":1.09,"v":0.14},{"s":1,"t":1.128,"v":0.253},
{"s":2,"t":0,"v":0.14},{"s":2,"t":0.01,"v":-0.05},{"s":2,"t":0.05,"v":-0.03},{"s":2,"t":0.1,"v":0.01},{"s":2,"t":0.16,"v":-0.02},{"s":2,"t":0.22,"v":0.04},{"s":2,"t":0.268,"v":0.1},{"s":2,"t":0.33,"v":0.04},{"s":2,"t":0.4,"v":0.0},{"s":2,"t":0.454,"v":-0.025},{"s":2,"t":0.5,"v":0.04},{"s":2,"t":0.547,"v":0.09},{"s":2,"t":0.6,"v":0.05},{"s":2,"t":0.66,"v":0.0},{"s":2,"t":0.733,"v":-0.045},{"s":2,"t":0.8,"v":0.0},{"s":2,"t":0.85,"v":0.04},{"s":2,"t":0.9,"v":0.02},{"s":2,"t":0.95,"v":-0.01},{"s":2,"t":1.0,"v":0.02},{"s":2,"t":1.05,"v":0.06},{"s":2,"t":1.09,"v":0.14},{"s":2,"t":1.128,"v":0.253},
{"s":3,"t":0,"v":0.15},{"s":3,"t":0.01,"v":-0.05},{"s":3,"t":0.05,"v":0.0},{"s":3,"t":0.094,"v":0.03},{"s":3,"t":0.13,"v":0.0},{"s":3,"t":0.164,"v":-0.03},{"s":3,"t":0.22,"v":0.07},{"s":3,"t":0.268,"v":0.15},{"s":3,"t":0.32,"v":0.06},{"s":3,"t":0.385,"v":0.005},{"s":3,"t":0.454,"v":-0.03},{"s":3,"t":0.5,"v":0.1},{"s":3,"t":0.547,"v":0.234},{"s":3,"t":0.59,"v":0.13},{"s":3,"t":0.64,"v":0.02},{"s":3,"t":0.733,"v":-0.05},{"s":3,"t":0.8,"v":0.02},{"s":3,"t":0.849,"v":0.06},{"s":3,"t":0.9,"v":0.03},{"s":3,"t":0.95,"v":-0.01},{"s":3,"t":1.0,"v":0.02},{"s":3,"t":1.05,"v":0.06},{"s":3,"t":1.09,"v":0.14},{"s":3,"t":1.128,"v":0.253},
{"s":4,"t":0,"v":0.14},{"s":4,"t":0.01,"v":-0.04},{"s":4,"t":0.05,"v":0.02},{"s":4,"t":0.094,"v":0.06},{"s":4,"t":0.13,"v":0.02},{"s":4,"t":0.164,"v":-0.02},{"s":4,"t":0.22,"v":0.03},{"s":4,"t":0.268,"v":0.09},{"s":4,"t":0.33,"v":0.03},{"s":4,"t":0.4,"v":0.0},{"s":4,"t":0.454,"v":-0.02},{"s":4,"t":0.5,"v":0.03},{"s":4,"t":0.547,"v":0.07},{"s":4,"t":0.6,"v":0.04},{"s":4,"t":0.66,"v":0.0},{"s":4,"t":0.733,"v":-0.03},{"s":4,"t":0.8,"v":0.04},{"s":4,"t":0.849,"v":0.075},{"s":4,"t":0.9,"v":0.04},{"s":4,"t":0.988,"v":0.043},{"s":4,"t":1.047,"v":-0.02},{"s":4,"t":1.13,"v":0.014},
{"s":5,"t":0,"v":0.15},{"s":5,"t":0.01,"v":-0.03},{"s":5,"t":0.05,"v":0.03},{"s":5,"t":0.094,"v":0.055},{"s":5,"t":0.13,"v":0.02},{"s":5,"t":0.164,"v":-0.03},{"s":5,"t":0.22,"v":0.06},{"s":5,"t":0.268,"v":0.14},{"s":5,"t":0.32,"v":0.06},{"s":5,"t":0.385,"v":0.0},{"s":5,"t":0.454,"v":-0.045},{"s":5,"t":0.5,"v":0.08},{"s":5,"t":0.547,"v":0.2},{"s":5,"t":0.59,"v":0.12},{"s":5,"t":0.64,"v":0.02},{"s":5,"t":0.733,"v":-0.06},{"s":5,"t":0.8,"v":0.01},{"s":5,"t":0.849,"v":0.05},{"s":5,"t":0.9,"v":0.03},{"s":5,"t":0.95,"v":-0.01},{"s":5,"t":1.0,"v":0.02},{"s":5,"t":1.05,"v":0.06},{"s":5,"t":1.09,"v":0.14},{"s":5,"t":1.128,"v":0.253},
{"s":6,"t":0,"v":0.16},{"s":6,"t":0.01,"v":-0.06},{"s":6,"t":0.05,"v":-0.01},{"s":6,"t":0.094,"v":0.038},{"s":6,"t":0.13,"v":0.0},{"s":6,"t":0.164,"v":-0.038},{"s":6,"t":0.22,"v":0.08},{"s":6,"t":0.268,"v":0.172},{"s":6,"t":0.32,"v":0.07},{"s":6,"t":0.385,"v":0.005},{"s":6,"t":0.454,"v":-0.034},{"s":6,"t":0.5,"v":0.1},{"s":6,"t":0.547,"v":0.234},{"s":6,"t":0.59,"v":0.13},{"s":6,"t":0.64,"v":0.02},{"s":6,"t":0.733,"v":-0.053},{"s":6,"t":0.8,"v":0.02},{"s":6,"t":0.849,"v":0.062},{"s":6,"t":0.9,"v":0.03},{"s":6,"t":0.95,"v":-0.01},{"s":6,"t":1.0,"v":0.02},{"s":6,"t":1.05,"v":0.06},{"s":6,"t":1.09,"v":0.14},{"s":6,"t":1.128,"v":0.253},{"s":6,"t":1.173,"v":0.15},{"s":6,"t":1.228,"v":0.035},{"s":6,"t":1.313,"v":-0.005},{"s":6,"t":1.36,"v":-0.03},{"s":6,"t":1.428,"v":0.016},{"s":6,"t":1.533,"v":0.014},{"s":6,"t":1.563,"v":-0.013},{"s":6,"t":1.628,"v":0.04},{"s":6,"t":1.673,"v":0.13},{"s":6,"t":1.72,"v":0.253},{"s":6,"t":1.765,"v":0.15},{"s":6,"t":1.836,"v":0.033},{"s":6,"t":1.894,"v":-0.02},{"s":6,"t":1.953,"v":-0.029},{"s":6,"t":2.02,"v":0.01},{"s":6,"t":2.08,"v":0.014},{"s":6,"t":2.13,"v":0.014},{"s":6,"t":2.16,"v":-0.01},{"s":6,"t":2.225,"v":0.04},{"s":6,"t":2.27,"v":0.13},{"s":6,"t":2.31,"v":0.253},{"s":6,"t":2.355,"v":0.15},{"s":6,"t":2.41,"v":0.035},{"s":6,"t":2.47,"v":-0.01},{"s":6,"t":2.533,"v":-0.024},{"s":6,"t":2.6,"v":0.016},{"s":6,"t":2.7,"v":0.014},{"s":6,"t":2.73,"v":-0.013},{"s":6,"t":2.8,"v":0.03},{"s":6,"t":2.85,"v":0.13},{"s":6,"t":2.89,"v":0.253},{"s":6,"t":2.94,"v":0.15},{"s":6,"t":3.0,"v":0.06},
{"s":7,"t":0,"v":0.13},{"s":7,"t":0.01,"v":-0.03},{"s":7,"t":0.05,"v":0.0},{"s":7,"t":0.1,"v":0.03},{"s":7,"t":0.16,"v":0.0},{"s":7,"t":0.22,"v":0.05},{"s":7,"t":0.268,"v":0.12},{"s":7,"t":0.33,"v":0.05},{"s":7,"t":0.4,"v":0.0},{"s":7,"t":0.454,"v":-0.02},{"s":7,"t":0.5,"v":0.04},{"s":7,"t":0.547,"v":0.08},{"s":7,"t":0.6,"v":0.05},{"s":7,"t":0.663,"v":0.03},{"s":7,"t":0.733,"v":-0.03},{"s":7,"t":0.78,"v":0.04},{"s":7,"t":0.815,"v":0.12},{"s":7,"t":0.85,"v":0.2},{"s":7,"t":0.9,"v":0.12},{"s":7,"t":0.95,"v":0.06},{"s":7,"t":0.988,"v":0.043},{"s":7,"t":1.047,"v":-0.02},{"s":7,"t":1.13,"v":0.014},
{"s":8,"t":0,"v":0.15},{"s":8,"t":0.01,"v":-0.06},{"s":8,"t":0.05,"v":-0.02},{"s":8,"t":0.1,"v":0.0},{"s":8,"t":0.14,"v":-0.01},{"s":8,"t":0.2,"v":0.06},{"s":8,"t":0.235,"v":0.15},{"s":8,"t":0.265,"v":0.25},{"s":8,"t":0.31,"v":0.14},{"s":8,"t":0.36,"v":0.05},{"s":8,"t":0.41,"v":0.0},{"s":8,"t":0.454,"v":0.0},{"s":8,"t":0.5,"v":0.04},{"s":8,"t":0.547,"v":0.07},{"s":8,"t":0.6,"v":0.04},{"s":8,"t":0.66,"v":0.0},{"s":8,"t":0.733,"v":-0.04},{"s":8,"t":0.78,"v":0.03},{"s":8,"t":0.815,"v":0.09},{"s":8,"t":0.85,"v":0.15},{"s":8,"t":0.9,"v":0.08},{"s":8,"t":0.95,"v":0.04},{"s":8,"t":0.99,"v":0.03},{"s":8,"t":1.047,"v":-0.02},{"s":8,"t":1.13,"v":0.014},{"s":8,"t":1.2,"v":0.01},{"s":8,"t":1.29,"v":-0.02},{"s":8,"t":1.34,"v":0.01},{"s":8,"t":1.395,"v":0.12},{"s":8,"t":1.435,"v":0.253},{"s":8,"t":1.48,"v":0.15},{"s":8,"t":1.535,"v":0.05},{"s":8,"t":1.587,"v":0.019},{"s":8,"t":1.67,"v":-0.024},{"s":8,"t":1.74,"v":0.014},{"s":8,"t":1.795,"v":0.014},{"s":8,"t":1.865,"v":-0.01},{"s":8,"t":1.915,"v":0.04},{"s":8,"t":1.97,"v":0.13},{"s":8,"t":2.015,"v":0.253},{"s":8,"t":2.06,"v":0.15},{"s":8,"t":2.122,"v":0.043},{"s":8,"t":2.195,"v":-0.01},{"s":8,"t":2.25,"v":-0.024},{"s":8,"t":2.325,"v":0.014},{"s":8,"t":2.395,"v":0.014},{"s":8,"t":2.455,"v":-0.01},{"s":8,"t":2.515,"v":0.04},{"s":8,"t":2.56,"v":0.13},{"s":8,"t":2.605,"v":0.253},{"s":8,"t":2.65,"v":0.15},{"s":8,"t":2.725,"v":0.03},{"s":8,"t":2.775,"v":0.0},{"s":8,"t":2.842,"v":-0.024},{"s":8,"t":2.915,"v":0.014},{"s":8,"t":3.0,"v":0.02},
{"s":9,"t":0,"v":0.155},{"s":9,"t":0.01,"v":-0.03},{"s":9,"t":0.04,"v":-0.02},{"s":9,"t":0.07,"v":-0.01},{"s":9,"t":0.14,"v":0.0},{"s":9,"t":0.2,"v":0.06},{"s":9,"t":0.235,"v":0.15},{"s":9,"t":0.263,"v":0.253},{"s":9,"t":0.31,"v":0.15},{"s":9,"t":0.36,"v":0.052},{"s":9,"t":0.41,"v":0.01},{"s":9,"t":0.454,"v":-0.02},{"s":9,"t":0.5,"v":0.08},{"s":9,"t":0.547,"v":0.205},{"s":9,"t":0.6,"v":0.13},{"s":9,"t":0.663,"v":0.052},{"s":9,"t":0.733,"v":-0.035},{"s":9,"t":0.78,"v":0.04},{"s":9,"t":0.815,"v":0.13},{"s":9,"t":0.85,"v":0.253},{"s":9,"t":0.9,"v":0.14},{"s":9,"t":0.95,"v":0.06},{"s":9,"t":0.988,"v":0.043},{"s":9,"t":1.047,"v":-0.02},{"s":9,"t":1.13,"v":0.014},{"s":9,"t":1.2,"v":0.01},{"s":9,"t":1.29,"v":-0.02},{"s":9,"t":1.34,"v":0.01},{"s":9,"t":1.4,"v":0.12},{"s":9,"t":1.44,"v":0.253},{"s":9,"t":1.485,"v":0.15},{"s":9,"t":1.54,"v":0.05},{"s":9,"t":1.592,"v":0.019},{"s":9,"t":1.674,"v":-0.024},{"s":9,"t":1.744,"v":0.014},{"s":9,"t":1.8,"v":0.014},{"s":9,"t":1.871,"v":-0.01},{"s":9,"t":1.92,"v":0.04},{"s":9,"t":1.975,"v":0.13},{"s":9,"t":2.02,"v":0.253},{"s":9,"t":2.065,"v":0.15},{"s":9,"t":2.127,"v":0.043},{"s":9,"t":2.2,"v":-0.01},{"s":9,"t":2.254,"v":-0.024},{"s":9,"t":2.33,"v":0.014},{"s":9,"t":2.4,"v":0.014},{"s":9,"t":2.46,"v":-0.01},{"s":9,"t":2.52,"v":0.04},{"s":9,"t":2.565,"v":0.13},{"s":9,"t":2.61,"v":0.253},{"s":9,"t":2.655,"v":0.15},{"s":9,"t":2.73,"v":0.03},{"s":9,"t":2.78,"v":0.0},{"s":9,"t":2.847,"v":-0.024},{"s":9,"t":2.92,"v":0.014},{"s":9,"t":3.0,"v":0.014}
]
},
"columns":2,
"spacing":{"row":40,"column":55},
"bounds":"flush",
"concat":[
{"width":474,"height":280,
"encoding":{"x":{"field":"t","type":"quantitative","scale":{"domain":[-0.15,3.15],"nice":false,"zero":false},"axis":{"values":[0,0.5,1,1.5,2,2.5,3],"format":".1f","title":null}},"y":{"field":"v","type":"quantitative","scale":{"domain":[-0.3,0.5],"nice":false,"zero":false},"axis":{"values":[0,0.5],"format":".1f","title":"Overlap"}}},
"layer":[
{"data":{"name":"a"},"mark":{"type":"line","interpolate":"monotone","strokeWidth":2.8,"strokeJoin":"round"},"encoding":{"color":{"field":"s","type":"nominal","scale":{"domain":[0,1,2,3,4,5,6,7,8,9]},"legend":null}}},
{"data":{"values":[{"t":0,"t2":3,"v":0.25}]},"mark":{"type":"rule","color":"black","strokeWidth":1.5,"strokeDash":[4,2]},"encoding":{"x2":{"field":"t2"}}},
{"data":{"values":[{"t":0.19,"v":0.3,"txt":"α = 0.01, c = 0, d = 1, γ = 5"}]},"mark":{"type":"text","align":"left","baseline":"alphabetic","font":"DejaVu Sans","fontSize":19.5,"color":"black"},"encoding":{"text":{"field":"txt"}}},
{"data":{"values":[{"t":-0.04,"v":-0.214,"txt":"60% noise"}]},"mark":{"type":"text","align":"left","baseline":"alphabetic","font":"DejaVu Sans","fontSize":28.5,"color":"#262626"},"encoding":{"text":{"field":"txt"}}},
{"data":{"values":[{"t":3.085,"v":0.4,"txt":"(a)"}]},"mark":{"type":"text","align":"right","baseline":"alphabetic","font":"DejaVu Sans","fontSize":28.5,"color":"#262626"},"encoding":{"text":{"field":"txt"}}}
]},
{"width":474,"height":280,
"encoding":{"x":{"field":"t","type":"quantitative","scale":{"domain":[-0.15,3.15],"nice":false,"zero":false},"axis":{"values":[0,0.5,1,1.5,2,2.5,3],"format":".1f","title":null}},"y":{"field":"v","type":"quantitative","scale":{"domain":[-0.3,0.5],"nice":false,"zero":false},"axis":{"values":[0,0.5],"format":".1f","title":null}}},
"layer":[
{"data":{"name":"b"},"mark":{"type":"line","interpolate":"monotone","strokeWidth":2.8,"strokeJoin":"round"},"encoding":{"color":{"field":"s","type":"nominal","scale":{"domain":[0,1,2,3,4,5,6,7,8,9]},"legend":null}}},
{"data":{"values":[{"t":0,"t2":3,"v":0.248},{"t":0,"t2":3,"v":0.252}]},"mark":{"type":"rule","color":"black","strokeWidth":2,"strokeDash":[5,2]},"encoding":{"x2":{"field":"t2"}}},
{"data":{"values":[{"t":0.19,"v":0.3,"txt":"α = 0.01, c = 0, d = 1, γ = 5"}]},"mark":{"type":"text","align":"left","baseline":"alphabetic","font":"DejaVu Sans","fontSize":19.5,"color":"black"},"encoding":{"text":{"field":"txt"}}},
{"data":{"values":[{"t":-0.08,"v":-0.263,"txt":"90% noise"}]},"mark":{"type":"text","align":"left","baseline":"alphabetic","font":"DejaVu Sans","fontSize":28.5,"color":"#262626"},"encoding":{"text":{"field":"txt"}}},
{"data":{"values":[{"t":3.085,"v":0.4,"txt":"(b)"}]},"mark":{"type":"text","align":"right","baseline":"alphabetic","font":"DejaVu Sans","fontSize":28.5,"color":"#262626"},"encoding":{"text":{"field":"txt"}}}
]},
{"width":474,"height":280,
"encoding":{"x":{"field":"t","type":"quantitative","scale":{"domain":[-0.15,3.15],"nice":false,"zero":false},"axis":{"values":[0,0.5,1,1.5,2,2.5,3],"format":".1f","title":"Time"}},"y":{"field":"v","type":"quantitative","scale":{"domain":[-0.3,0.5],"nice":false,"zero":false},"axis":{"values":[0,0.5],"format":".1f","title":"Overlap"}}},
"layer":[
{"data":{"name":"c"},"mark":{"type":"line","interpolate":"monotone","strokeWidth":2.8,"strokeJoin":"round"},"encoding":{"color":{"field":"s","type":"nominal","scale":{"domain":[0,1,2,3,4,5,6,7,8,9]},"legend":null}}},
{"data":{"values":[{"t":0,"t2":3,"v":0.257},{"t":0,"t2":3,"v":0.253},{"t":0,"t2":3,"v":0.248},{"t":0,"t2":3,"v":0.244},{"t":0,"t2":3,"v":0.239},{"t":0,"t2":3,"v":0.234},{"t":0,"t2":3,"v":0.22}]},"mark":{"type":"rule","color":"black","strokeWidth":1.5,"strokeDash":[4,2]},"encoding":{"x2":{"field":"t2"}}},
{"data":{"values":[{"t":0.19,"v":0.3,"txt":"α = 0.01, c = 0, d = 1, γ = 5"}]},"mark":{"type":"text","align":"left","baseline":"alphabetic","font":"DejaVu Sans","fontSize":19.5,"color":"black"},"encoding":{"text":{"field":"txt"}}},
{"data":{"values":[{"t":-0.017,"v":-0.244,"txt":"100% noise"}]},"mark":{"type":"text","align":"left","baseline":"alphabetic","font":"DejaVu Sans","fontSize":28.5,"color":"#262626"},"encoding":{"text":{"field":"txt"}}},
{"data":{"values":[{"t":3.085,"v":0.4,"txt":"(c)"}]},"mark":{"type":"text","align":"right","baseline":"alphabetic","font":"DejaVu Sans","fontSize":28.5,"color":"#262626"},"encoding":{"text":{"field":"txt"}}}
]},
{"width":474,"height":280,
"encoding":{"x":{"field":"t","type":"quantitative","scale":{"domain":[-0.15,3.15],"nice":false,"zero":false},"axis":{"values":[0,0.5,1,1.5,2,2.5,3],"format":".1f","title":"Time"}},"y":{"field":"v","type":"quantitative","scale":{"domain":[-0.3,0.5],"nice":false,"zero":false},"axis":{"values":[0,0.5],"format":".1f","title":null}}},
"layer":[
{"data":{"name":"d"},"mark":{"type":"line","interpolate":"monotone","strokeWidth":2.8,"strokeJoin":"round"},"encoding":{"color":{"field":"s","type":"nominal","scale":{"domain":[0,1,2,3,4,5,6,7,8,9]},"legend":null}}},
{"data":{"values":[{"t":0,"t2":3,"v":0.248},{"t":0,"t2":3,"v":0.252}]},"mark":{"type":"rule","color":"black","strokeWidth":2,"strokeDash":[5,2]},"encoding":{"x2":{"field":"t2"}}},
{"data":{"values":[{"t":0.19,"v":0.3,"txt":"α = 0.01, c = 0, d = 1, γ = 5"}]},"mark":{"type":"text","align":"left","baseline":"alphabetic","font":"DejaVu Sans","fontSize":19.5,"color":"black"},"encoding":{"text":{"field":"txt"}}},
{"data":{"values":[{"t":-0.033,"v":-0.153,"txt":"60% noise +"},{"t":-0.033,"v":-0.268,"txt":"40% linear pattern mixture"}]},"mark":{"type":"text","align":"left","baseline":"alphabetic","font":"DejaVu Sans","fontSize":28.5,"color":"#262626"},"encoding":{"text":{"field":"txt"}}},
{"data":{"values":[{"t":3.085,"v":0.4,"txt":"(d)"}]},"mark":{"type":"text","align":"right","baseline":"alphabetic","font":"DejaVu Sans","fontSize":28.5,"color":"#262626"},"encoding":{"text":{"field":"txt"}}}
]}
]
}
